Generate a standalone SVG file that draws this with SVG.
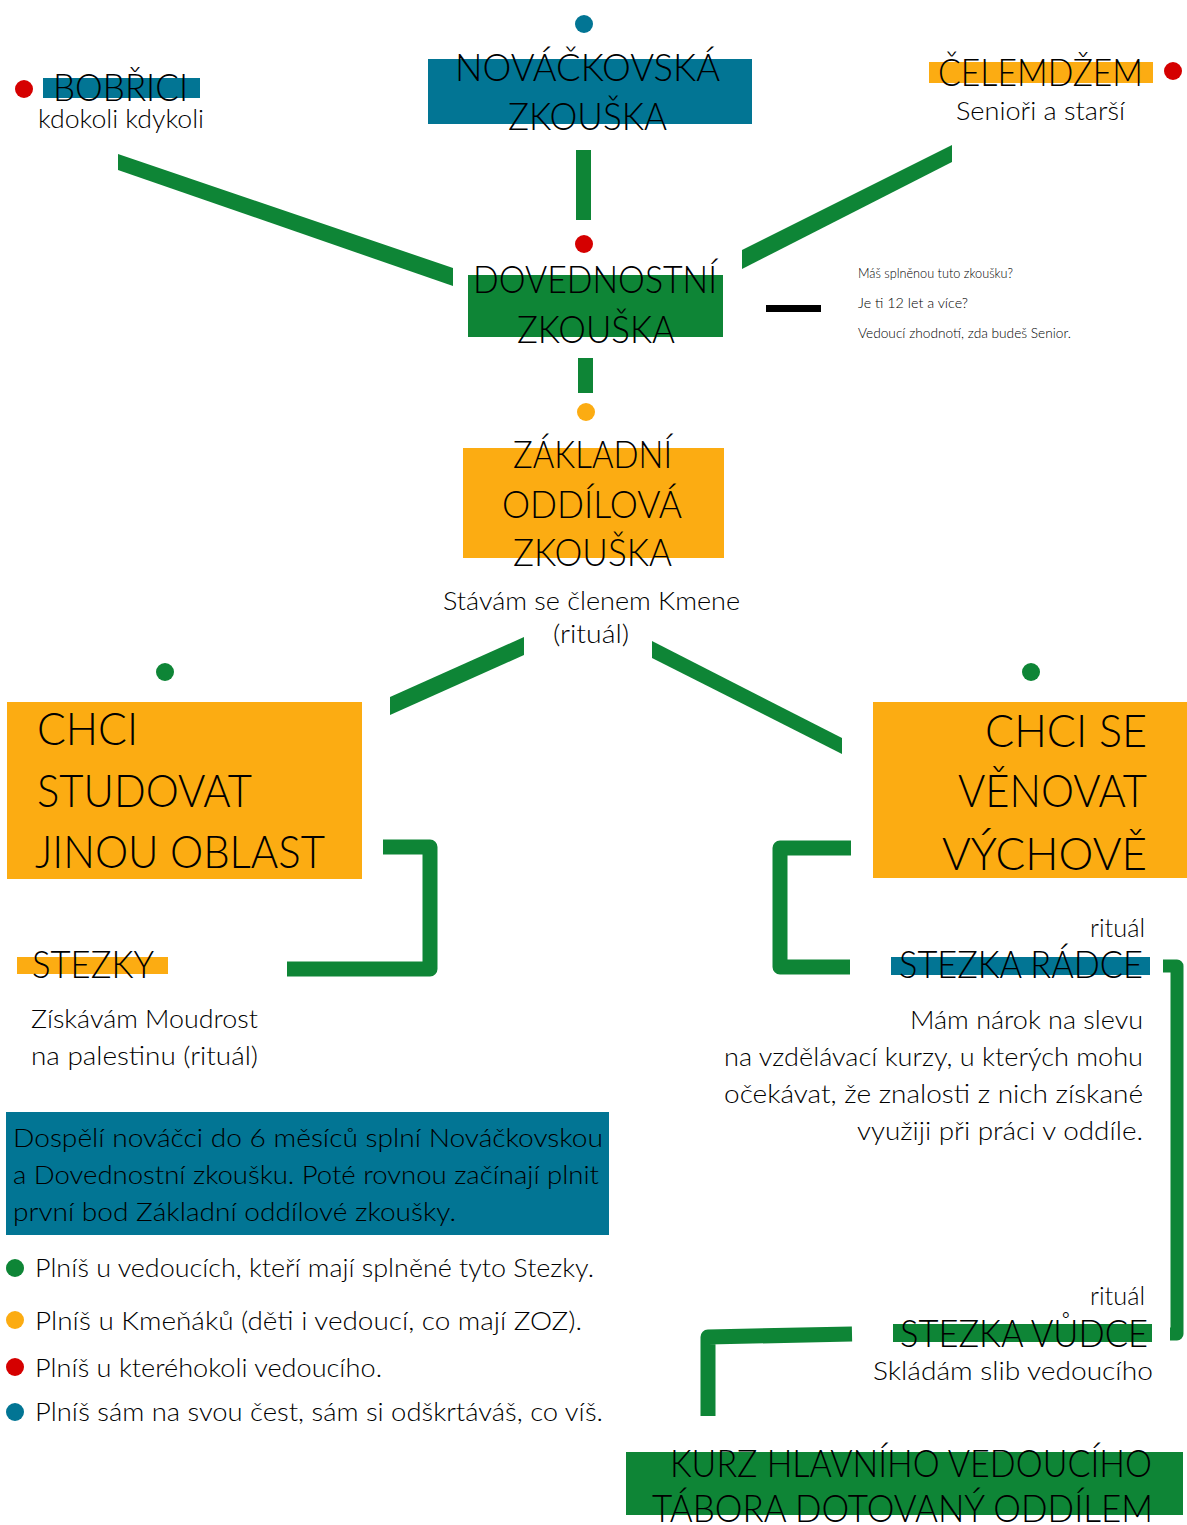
<svg xmlns="http://www.w3.org/2000/svg" width="1187" height="1525" viewBox="0 0 1187 1525">
<style>
text{font-family:Lato,"Liberation Sans","Noto Sans",sans-serif;font-weight:300;fill:#000}
.h{font-size:37px}
.hb{font-size:46px}
.s{font-size:26px}
.xs{font-size:13px}
.blue{fill:#027594}
.green{fill:#0e8536}
.yellow{fill:#fcac12}
.red{fill:#d50000}
.ln{fill:none;stroke:#0e8536;stroke-width:15;stroke-linejoin:round}
</style>
<rect width="1187" height="1525" fill="#fff"/>
<g id="connectors">
<polygon class="green" points="118,154 453,268 453,286 118,170"/>
<polygon class="green" points="742,250 952,145 952,162 742,269"/>
<rect class="green" x="576" y="150" width="15" height="70"/>
<rect class="green" x="578" y="358" width="15" height="35"/>
<polygon class="green" points="390,697 524,637 524,655 390,715"/>
<polygon class="green" points="652,641 842,738 842,754 652,658"/>
<path class="ln" d="M383,847 H430 V969 H287"/>
<path class="ln" d="M851,848 H780 V967 H850"/>
<path class="ln" style="stroke-width:13" d="M1163,966 H1177 V1334 H1170"/>
<path class="ln" d="M852,1334 L708,1337 V1416"/>
<rect x="766" y="305" width="55" height="7" fill="#000"/>
</g>
<g id="bobrici">
<circle class="red" cx="24" cy="89" r="9"/>
<rect class="blue" x="43" y="78" width="157" height="20"/>
<text class="h" x="53" y="101" textLength="135" lengthAdjust="spacingAndGlyphs">BOBŘICI</text>
<text class="s" x="38" y="128" textLength="166" lengthAdjust="spacingAndGlyphs">kdokoli kdykoli</text>
</g>
<g id="novackovska">
<circle class="blue" cx="584" cy="24" r="9"/>
<rect class="blue" x="428" y="59" width="324" height="65"/>
<text class="h" x="455" y="81" textLength="265" lengthAdjust="spacingAndGlyphs">NOVÁČKOVSKÁ</text>
<text class="h" x="508" y="130" textLength="159" lengthAdjust="spacingAndGlyphs">ZKOUŠKA</text>
</g>
<g id="celemdzem">
<rect class="yellow" x="929" y="62" width="224" height="21"/>
<circle class="red" cx="1173" cy="71" r="9"/>
<text class="h" x="938" y="86" textLength="205" lengthAdjust="spacingAndGlyphs">ČELEMDŽEM</text>
<text class="s" x="956" y="120" textLength="169" lengthAdjust="spacingAndGlyphs">Senioři a starší</text>
</g>
<g id="dovednostni">
<circle class="red" cx="584" cy="244" r="9"/>
<rect class="green" x="468" y="275" width="255" height="62"/>
<text class="h" x="473" y="293" textLength="244" lengthAdjust="spacingAndGlyphs">DOVEDNOSTNÍ</text>
<text class="h" x="517" y="343" textLength="158" lengthAdjust="spacingAndGlyphs">ZKOUŠKA</text>
</g>
<g id="senior-note">
<text class="xs" x="858" y="278" textLength="155" lengthAdjust="spacingAndGlyphs">Máš splněnou tuto zkoušku?</text>
<text class="xs" x="858" y="308" textLength="110" lengthAdjust="spacingAndGlyphs">Je ti 12 let a více?</text>
<text class="xs" x="858" y="338" textLength="213" lengthAdjust="spacingAndGlyphs">Vedoucí zhodnotí, zda budeš Senior.</text>
</g>
<g id="zakladni">
<circle class="yellow" cx="586" cy="412" r="9"/>
<rect class="yellow" x="463" y="448" width="261" height="110"/>
<text class="h" x="513" y="468" textLength="159" lengthAdjust="spacingAndGlyphs">ZÁKLADNÍ</text>
<text class="h" x="502" y="518" textLength="180" lengthAdjust="spacingAndGlyphs">ODDÍLOVÁ</text>
<text class="h" x="513" y="566" textLength="159" lengthAdjust="spacingAndGlyphs">ZKOUŠKA</text>
<text class="s" x="443" y="610" textLength="297" lengthAdjust="spacingAndGlyphs">Stávám se členem Kmene</text>
<text class="s" x="553" y="643" textLength="76" lengthAdjust="spacingAndGlyphs">(rituál)</text>
</g>
<g id="studovat">
<circle class="green" cx="165" cy="672" r="9"/>
<rect class="yellow" x="7" y="702" width="355" height="177"/>
<text class="hb" x="37" y="745" textLength="101" lengthAdjust="spacingAndGlyphs">CHCI</text>
<text class="hb" x="37" y="807" textLength="215" lengthAdjust="spacingAndGlyphs">STUDOVAT</text>
<text class="hb" x="35" y="868" textLength="290" lengthAdjust="spacingAndGlyphs">JINOU OBLAST</text>
</g>
<g id="vychova">
<circle class="green" cx="1031" cy="672" r="9"/>
<rect class="yellow" x="873" y="702" width="314" height="176"/>
<text class="hb" x="985" y="747" textLength="162" lengthAdjust="spacingAndGlyphs">CHCI SE</text>
<text class="hb" x="958" y="807" textLength="189" lengthAdjust="spacingAndGlyphs">VĚNOVAT</text>
<text class="hb" x="942" y="870" textLength="205" lengthAdjust="spacingAndGlyphs">VÝCHOVĚ</text>
</g>
<g id="stezky">
<rect class="yellow" x="17" y="957" width="151" height="17"/>
<text class="h" x="32" y="978" textLength="122" lengthAdjust="spacingAndGlyphs">STEZKY</text>
<text class="s" x="31" y="1028" textLength="227" lengthAdjust="spacingAndGlyphs">Získávám Moudrost</text>
<text class="s" x="31" y="1065" textLength="227" lengthAdjust="spacingAndGlyphs">na palestinu (rituál)</text>
</g>
<g id="stezka-radce">
<text class="s" x="1090" y="937" textLength="55" lengthAdjust="spacingAndGlyphs">rituál</text>
<rect class="blue" x="891" y="957" width="259" height="18"/>
<text class="h" x="899" y="978" textLength="244" lengthAdjust="spacingAndGlyphs">STEZKA RÁDCE</text>
<text class="s" x="910" y="1029" textLength="233" lengthAdjust="spacingAndGlyphs">Mám nárok na slevu</text>
<text class="s" x="724" y="1066" textLength="419" lengthAdjust="spacingAndGlyphs">na vzdělávací kurzy, u kterých mohu</text>
<text class="s" x="724" y="1103" textLength="419" lengthAdjust="spacingAndGlyphs">očekávat, že znalosti z nich získané</text>
<text class="s" x="857" y="1140" textLength="286" lengthAdjust="spacingAndGlyphs">využiji při práci v oddíle.</text>
</g>
<g id="stezka-vudce">
<text class="s" x="1090" y="1305" textLength="55" lengthAdjust="spacingAndGlyphs">rituál</text>
<rect class="green" x="893" y="1324" width="259" height="18"/>
<text class="h" x="900" y="1347" textLength="248" lengthAdjust="spacingAndGlyphs">STEZKA VŮDCE</text>
<text class="s" x="873" y="1380" textLength="280" lengthAdjust="spacingAndGlyphs">Skládám slib vedoucího</text>
</g>
<g id="kurz">
<rect class="green" x="626" y="1452" width="557" height="63"/>
<text class="h" x="670" y="1477" textLength="482" lengthAdjust="spacingAndGlyphs">KURZ HLAVNÍHO VEDOUCÍHO</text>
<text class="h" x="652" y="1522" textLength="501" lengthAdjust="spacingAndGlyphs">TÁBORA DOTOVANÝ ODDÍLEM</text>
</g>
<g id="note">
<rect class="blue" x="6" y="1112" width="603" height="123"/>
<text class="s" x="13" y="1147" textLength="590" lengthAdjust="spacingAndGlyphs">Dospělí nováčci do 6 měsíců splní Nováčkovskou</text>
<text class="s" x="13" y="1184" textLength="586" lengthAdjust="spacingAndGlyphs">a Dovednostní zkoušku. Poté rovnou začínají plnit</text>
<text class="s" x="13" y="1221" textLength="443" lengthAdjust="spacingAndGlyphs">první bod Základní oddílové zkoušky.</text>
</g>
<g id="legend">
<circle class="green" cx="15" cy="1268" r="9"/>
<text class="s" x="35" y="1277" textLength="559" lengthAdjust="spacingAndGlyphs">Plníš u vedoucích, kteří mají splněné tyto Stezky.</text>
<circle class="yellow" cx="15" cy="1320" r="9"/>
<text class="s" x="35" y="1330" textLength="547" lengthAdjust="spacingAndGlyphs">Plníš u Kmeňáků (děti i vedoucí, co mají ZOZ).</text>
<circle class="red" cx="15" cy="1367" r="9"/>
<text class="s" x="35" y="1377" textLength="347" lengthAdjust="spacingAndGlyphs">Plníš u kteréhokoli vedoucího.</text>
<circle class="blue" cx="15" cy="1412" r="9"/>
<text class="s" x="35" y="1421" textLength="568" lengthAdjust="spacingAndGlyphs">Plníš sám na svou čest, sám si odškrtáváš, co víš.</text>
</g>
</svg>
